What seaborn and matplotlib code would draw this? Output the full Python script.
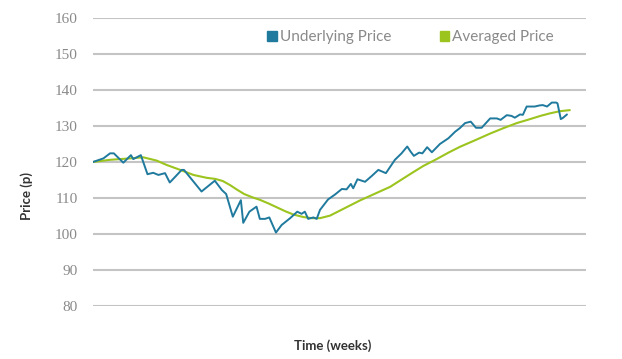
import matplotlib
matplotlib.use("Agg")
import matplotlib.pyplot as plt
import matplotlib.patches as mpatches
import pandas as pd
import seaborn as sns

# ---------------------------------------------------------------------------
# Data
# ---------------------------------------------------------------------------

underlying_weeks = [
    0, 2.2, 3.6, 4.4, 6.4, 8.0, 8.5, 10.1, 11.5, 12.7, 13.8, 15.2, 16.2, 17.5,
    18.7, 19.2, 22.9, 25.7, 27.2, 28.1, 29.5, 31.2, 31.7, 33.0, 34.5, 35.2,
    36.3, 37.2, 38.6, 39.8, 41.6, 43.1, 44.0, 44.7, 45.4, 46.5, 47.2, 47.9,
    49.6, 51.1, 52.5, 53.5, 54.4, 54.9, 55.8, 57.4, 58.8, 60.2, 61.8, 63.7,
    65.1, 66.3, 67.0, 67.7, 68.8, 69.5, 70.5, 71.5, 73.2, 75.0, 76.4, 77.4,
    78.5, 79.7, 80.8, 82.0, 83.8, 85.2, 86.0, 87.3, 88.3, 89.0, 90.1, 90.7,
    91.5, 93.2, 94.2, 94.9, 95.8, 96.8, 97.7, 98.0, 98.7, 99.2, 100.0,
]
underlying_price = [
    120.0, 121.0, 122.4, 122.4, 119.8, 121.9, 120.8, 121.9, 116.6, 117.0, 116.4,
    116.9, 114.3, 116.1, 117.8, 117.8, 111.8, 114.8, 112.2, 111.1, 104.8, 109.4,
    103.1, 106.2, 107.6, 104.2, 104.2, 104.6, 100.4, 102.5, 104.4, 106.2, 105.6,
    106.2, 104.2, 104.6, 104.2, 106.7, 109.6, 111.0, 112.5, 112.4, 113.9, 112.7,
    115.2, 114.5, 116.1, 117.8, 116.9, 120.6, 122.4, 124.3, 122.9, 121.7, 122.6,
    122.4, 124.1, 122.7, 125.0, 126.6, 128.4, 129.4, 130.8, 131.2, 129.5, 129.5,
    132.1, 132.1, 131.7, 133.0, 132.8, 132.3, 133.2, 133.1, 135.4, 135.4, 135.7,
    135.8, 135.4, 136.5, 136.5, 136.3, 131.9, 132.3, 133.2,
]

averaged_weeks = [
    0, 3.6, 7.8, 10.6, 13.4, 15.5, 18.4, 21.2, 24.0, 25.8, 27.4, 28.9, 30.4,
    31.9, 33.6, 35.2, 37.0, 38.8, 40.6, 42.3, 44.4, 46.2, 47.9, 50.0, 52.1,
    54.2, 56.3, 59.5, 62.7, 65.2, 67.6, 69.7, 72.5, 75.0, 77.4, 80.9, 83.8,
    86.6, 89.4, 92.2, 94.4, 96.4, 98.5, 100.6,
]
averaged_price = [
    120.0, 120.6, 121.0, 121.3, 120.4, 119.2, 117.8, 116.4, 115.6, 115.3, 114.7,
    113.6, 112.3, 111.1, 110.2, 109.5, 108.5, 107.4, 106.3, 105.4, 104.7, 104.4,
    104.4, 105.1, 106.5, 107.9, 109.3, 111.2, 113.1, 115.2, 117.2, 118.9, 120.8,
    122.6, 124.2, 126.2, 127.9, 129.4, 130.8, 131.9, 132.8, 133.5, 134.1, 134.4,
]

y_ticks = [80, 90, 100, 110, 120, 130, 140, 150, 160]
series_names = ["Underlying Price", "Averaged Price"]

# ---------------------------------------------------------------------------
# Style
# ---------------------------------------------------------------------------

BLUE = "#1f7a9e"
GREEN = "#9cc41f"
GRID = "#c4c4c4"
TICK = "#8a8a8a"
LABEL = "#333333"

sns.set_style("white")

df_under = pd.DataFrame({"week": underlying_weeks, "price": underlying_price})
df_avg = pd.DataFrame({"week": averaged_weeks, "price": averaged_price})

fig = plt.figure(figsize=(6.22, 3.59), dpi=100)
ax = fig.add_axes([0.1495, 0.1476, 0.7925, 0.8024])

sns.lineplot(data=df_avg, x="week", y="price", color=GREEN, linewidth=1.5,
             ax=ax, zorder=3)
sns.lineplot(data=df_under, x="week", y="price", color=BLUE, linewidth=1.4,
             ax=ax, zorder=4)

ax.set_xlim(0, 104)
ax.set_ylim(80, 160)
ax.set_xticks([])
ax.set_yticks(y_ticks)
ax.set_yticklabels([str(t) for t in y_ticks], family="Liberation Serif",
                   fontsize=11, color=TICK)
ax.tick_params(axis="y", length=0, pad=11)
for t in y_ticks:
    ax.axhline(t, color=GRID, linewidth=1.5, zorder=1)
for spine in ax.spines.values():
    spine.set_visible(False)

ax.set_xlabel("")
ax.set_ylabel("")
fig.text(0.0434, 0.455, "Price (p)", rotation=90, ha="center", va="center",
         family="Lato", fontweight="bold", fontsize=9.5, color=LABEL)
fig.text(0.535, 0.036, "Time (weeks)", ha="center", va="center",
         family="Lato", fontweight="bold", fontsize=9.5, color=LABEL)

handles = [mpatches.Patch(color=BLUE), mpatches.Patch(color=GREEN)]
leg = fig.legend(handles, series_names, loc="center", ncol=2,
                 bbox_to_anchor=(0.66, 0.897), frameon=False,
                 handlelength=0.62, handleheight=0.62, handletextpad=0.2,
                 columnspacing=3.2, prop={"family": "Lato", "size": 11})
for txt in leg.get_texts():
    txt.set_color(TICK)

fig.savefig("out.png", dpi=100)
